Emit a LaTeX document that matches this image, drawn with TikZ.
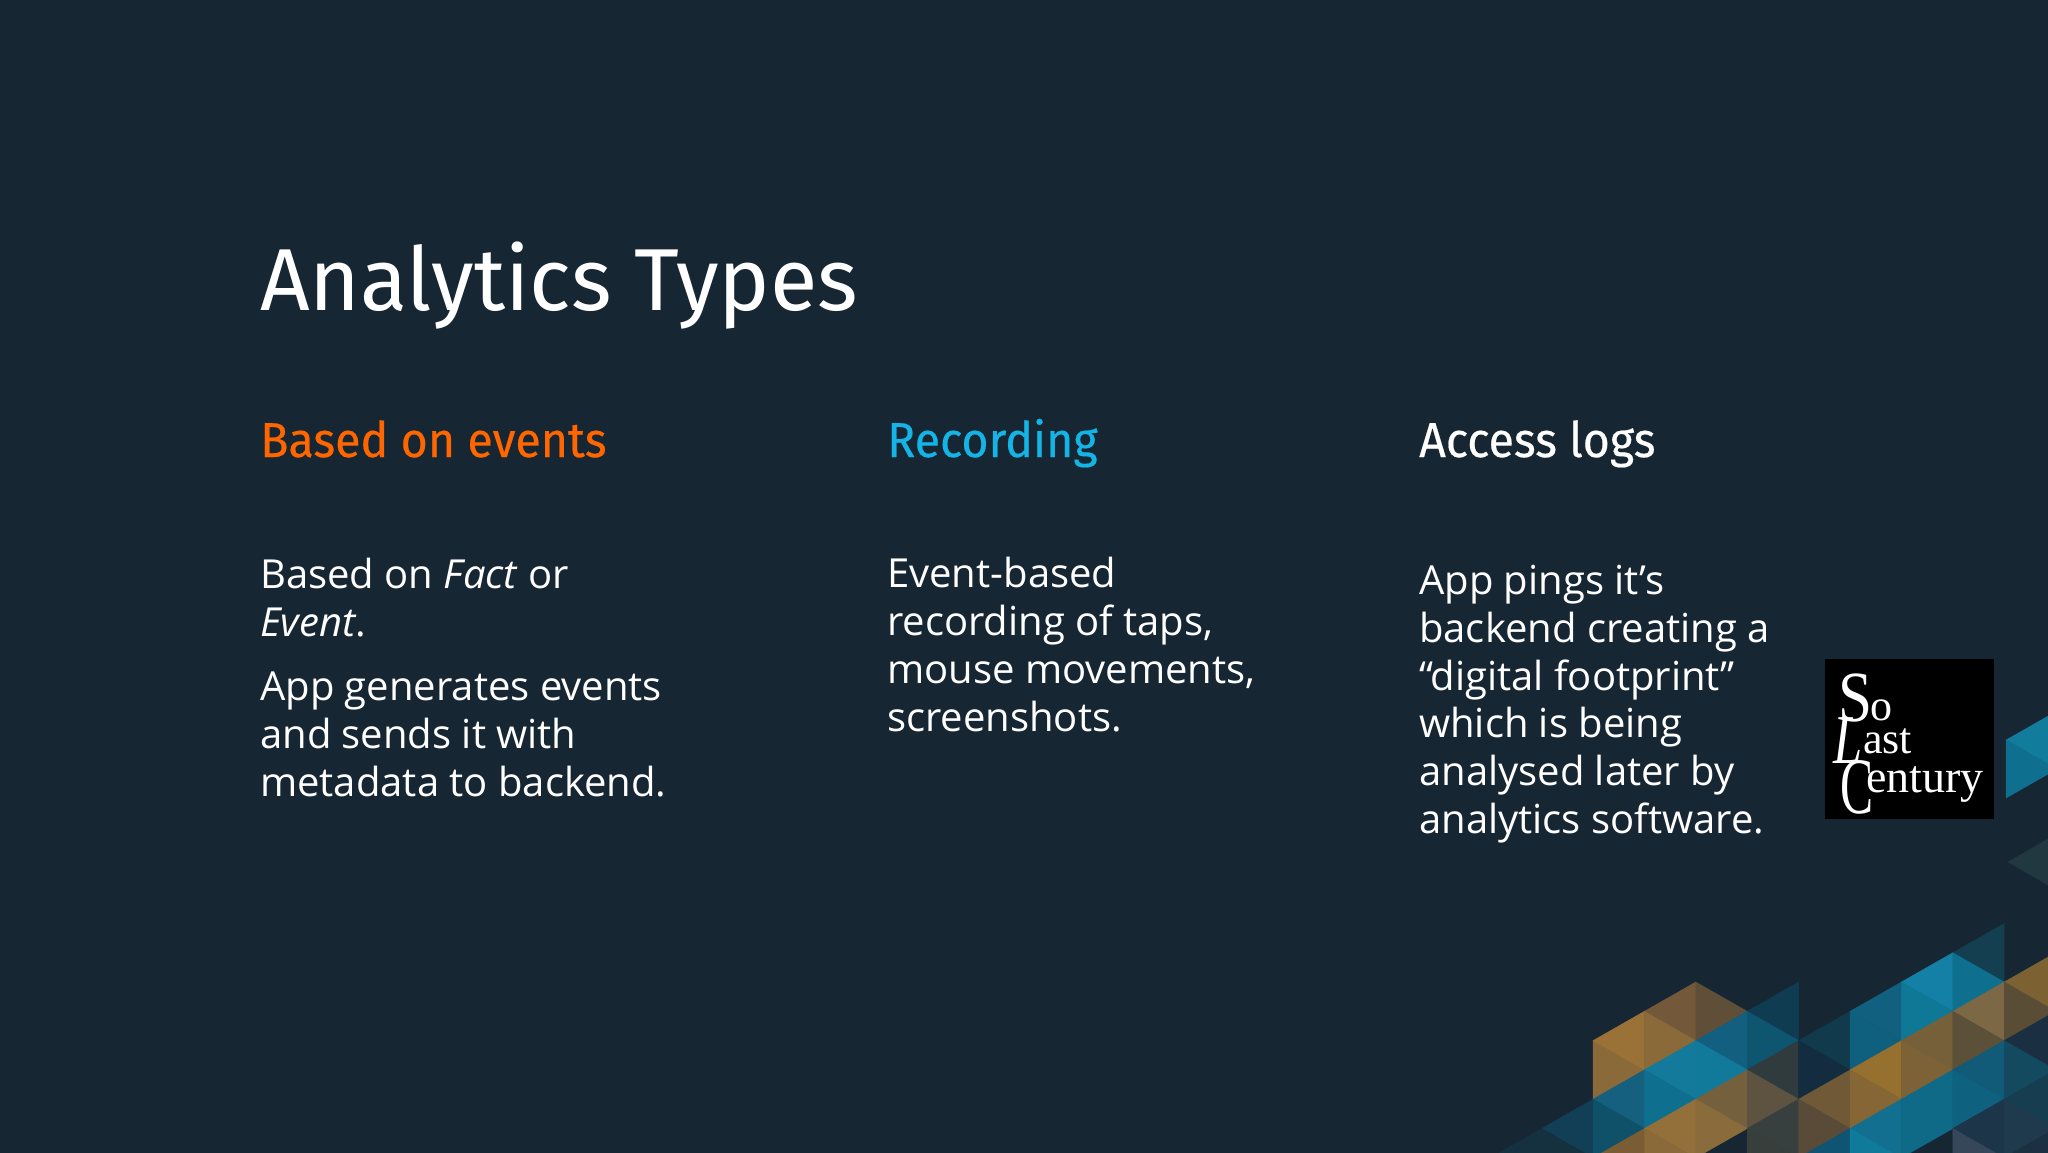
\documentclass[tikz,border=0pt]{standalone}
\usepackage{fontspec}
\setmainfont{Open Sans}
\newfontfamily\titlefont[FakeStretch=0.985]{Fira Sans}
\newfontfamily\headfont[FakeStretch=0.95,FakeBold=0.4]{Fira Sans}
\newfontfamily\logofont{Liberation Serif}
\definecolor{bgc}{HTML}{162633}
\definecolor{hdorange}{HTML}{FF6600}
\definecolor{hdblue}{HTML}{14B5E6}
\newcommand{\TR}[3]{\definecolor{tc}{HTML}{#3}\filldraw[tc,line width=0.4pt] ({1593+51.4*#1},{982+29.3*#2}) -- ({1593+51.4*#1},{982+29.3*(#2+2)}) -- ({1593+51.4*(#1+1)},{982+29.3*(#2+1)}) -- cycle;}
\newcommand{\TL}[3]{\definecolor{tc}{HTML}{#3}\filldraw[tc,line width=0.4pt] ({1593+51.4*#1},{982+29.3*#2}) -- ({1593+51.4*#1},{982+29.3*(#2+2)}) -- ({1593+51.4*(#1-1)},{982+29.3*(#2+1)}) -- cycle;}
\tikzset{
  titletext/.style={anchor=base west,inner sep=0pt,text=white,font=\titlefont\fontsize{88}{100}\selectfont},
  headtext/.style={anchor=base west,inner sep=0pt,font=\headfont\fontsize{49}{56}\selectfont},
  bodytext/.style={anchor=north west,inner sep=0pt,text=white,align=left,font=\fontsize{40}{47.8}\selectfont},
  logotext/.style={anchor=base west,inner sep=0pt,text=white,font=\logofont},
}
\begin{document}
\begin{tikzpicture}[x=1pt,y=-1pt]
\useasboundingbox (0,0) rectangle (2048,1152);
\begin{scope}
\clip (-4,-4) rectangle (2052,1156);
\fill[bgc] (-4,-4) rectangle (2052,1156);
% far-left fading blue
\TL{0}{4}{123F55}
\TR{-1}{5}{15303F}
\TL{-1}{5}{15303F}
% column 0-1
\TR{0}{2}{8A6A38}
\TL{1}{1}{9A7237}
\TL{1}{3}{15607F}
\TR{0}{4}{0F5168}
\TL{1}{5}{7A5C35}
% column 1-2
\TL{2}{0}{73593A}
\TR{1}{1}{8A6A38}
\TL{2}{2}{137A9C}
\TR{1}{3}{0F6F8F}
\TL{2}{4}{93703A}
\TR{1}{5}{8A6A38}
% column 2-3
\TR{2}{0}{5F4F38}
\TL{3}{1}{135F80}
\TR{2}{2}{117A9B}
\TL{3}{3}{75603E}
\TR{2}{4}{8A6C3C}
% column 3-4
\TL{4}{0}{103C52}
\TR{3}{1}{0E5570}
\TL{4}{2}{2F3B3D}
\TR{3}{3}{5D5340}
\TL{4}{4}{38403F}
\TR{3}{5}{373E3C}
% column 4-5
\TL{5}{1}{113A4C}
\TR{4}{2}{132C40}
\TL{5}{3}{6F5936}
\TR{4}{4}{5A4B38}
\TL{5}{5}{0F5573}
\TR{4}{6}{2A3A45}
% column 5-6
\TL{6}{0}{12607F}
\TR{5}{1}{0F5F7F}
\TL{6}{2}{96702F}
\TR{5}{3}{876635}
\TL{6}{4}{126F90}
\TR{5}{5}{107A9B}
% column 6-7
\TL{7}{-1}{1580A5}
\TR{6}{0}{0F7897}
\TL{7}{1}{76603A}
\TR{6}{2}{7D6238}
\TL{7}{3}{0E6A87}
\TR{6}{4}{0E6A87}
% column 7-8
\TL{8}{-2}{133F50}
\TR{7}{-1}{0E6F8F}
\TL{8}{0}{7C6844}
\TR{7}{1}{5B5038}
\TL{8}{2}{115A78}
\TR{7}{3}{0F6180}
\TL{8}{4}{1C3548}
\TR{7}{5}{37475A}
% column 8-9
\TL{9}{-1}{7C6233}
\TR{8}{0}{5A4D36}
\TL{9}{1}{1A3042}
\TR{8}{2}{134A60}
\TL{9}{3}{173E50}
\TR{8}{4}{1F3A4C}
\TL{9}{5}{1B3040}
\TR{8}{6}{2F3E4E}
% upper right
\definecolor{tc}{HTML}{117C9C}
\filldraw[tc,line width=0.4pt] (2006,740) -- (2057,711) -- (2057,769) -- cycle;
\definecolor{tc}{HTML}{0E6F8F}
\filldraw[tc,line width=0.4pt] (2006,740) -- (2006,798) -- (2057,769) -- cycle;
\definecolor{tc}{HTML}{223840}
\filldraw[tc,line width=0.4pt] (2008,862) -- (2060,832) -- (2060,892) -- cycle;
\end{scope}
% texts
\node[titletext] (title) at (260,310) {Analytics Types};
\node[headtext,text=hdorange] (h1) at (260,457) {Based on events};
\node[headtext,text=hdblue] (h2) at (887,457) {Recording};
\node[headtext,text=white] (h3) at (1419,457) {Access logs};
\node[bodytext] (b1a) at (260,558) {Based on \textit{Fact} or\\\textit{Event}.};
\node[bodytext] (b1b) at (260,672) {App generates events\\and sends it with\\metadata to backend.};
\node[bodytext] (b2) at (887,557) {Event-based\\recording of taps,\\mouse movements,\\screenshots.};
\node[bodytext] (b3) at (1419,565) {App pings it’s\\backend creating a\\“digital footprint”\\which is being\\analysed later by\\analytics software.};
% logo
\fill[black] (1825,659) rectangle (1994,819);
\node[logotext,font=\logofont\fontsize{72}{72}\selectfont] (ls) at (1838,721) {\scalebox{.85}[1]{S}};
\node[logotext,font=\logofont\fontsize{44}{44}\selectfont] (lo) at (1870,720) {o};
\node[logotext,font=\logofont\itshape\fontsize{70}{70}\selectfont] (ll) at (1833,763) {\scalebox{.75}[1]{L}};
\node[logotext,font=\logofont\fontsize{44}{44}\selectfont] (la) at (1863,753) {ast};
\node[logotext,font=\logofont\fontsize{80}{80}\selectfont] (lc) at (1840,813) {\scalebox{.62}[1]{C}};
\node[logotext,font=\logofont\fontsize{46}{46}\selectfont] (le) at (1866,792) {entury};
\end{tikzpicture}
\end{document}
